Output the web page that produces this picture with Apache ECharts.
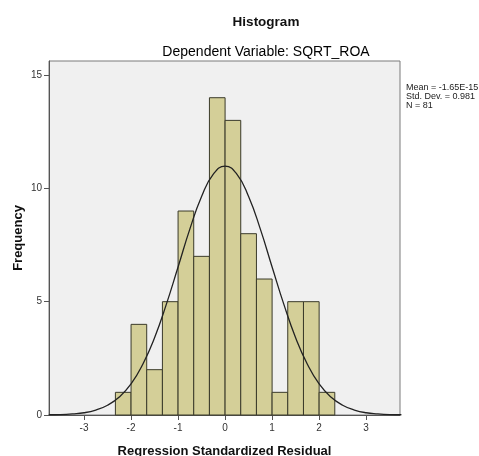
<!DOCTYPE html>
<html>
<head>
<meta charset="utf-8">
<script src="https://cdn.jsdelivr.net/npm/echarts@6/dist/echarts.min.js"></script>
<style>
html,body{margin:0;padding:0;background:#fff;}
#chart{width:479px;height:456px;}
</style>
</head>
<body>
<div id="chart"></div>
<script>
// Histogram bins (lower/upper edges) and frequencies
var binLower = [-2.333, -2, -1.667, -1.333, -1, -0.667, -0.333, 0, 0.333, 0.667, 1, 1.333, 1.667, 2];
var binUpper = [-2, -1.667, -1.333, -1, -0.667, -0.333, 0, 0.333, 0.667, 1, 1.333, 1.667, 2, 2.333];
var counts = [1, 4, 2, 5, 9, 7, 14, 13, 8, 6, 1, 5, 5, 1];

// Normal curve points
var curveX = [-3.75, -3.5, -3.25, -3, -2.75, -2.5, -2.25, -2, -1.75, -1.5, -1.25, -1, -0.75, -0.5, -0.25, 0, 0.25, 0.5, 0.75, 1, 1.25, 1.5, 1.75, 2, 2.25, 2.5, 2.75, 3, 3.25, 3.5, 3.75];
var curveY = [0.01, 0.02, 0.05, 0.10, 0.22, 0.43, 0.79, 1.37, 2.24, 3.41, 4.88, 6.53, 8.20, 9.64, 10.63, 10.98, 10.63, 9.64, 8.20, 6.53, 4.88, 3.41, 2.24, 1.37, 0.79, 0.43, 0.22, 0.10, 0.05, 0.02, 0.01];

// Tick labels
var xTicks = [-3, -2, -1, 0, 1, 2, 3];
var yTicks = [0, 5, 10, 15];

var statsLines = ['Mean = -1.65E-15', 'Std. Dev. = 0.981', 'N = 81'];

var barData = counts.map(function (c, i) { return [binLower[i], binUpper[i], c]; });
var lineData = curveX.map(function (x, i) { return [x, curveY[i]]; });

var chart = echarts.init(document.getElementById('chart'), null, {renderer: 'canvas'});
var font = 'Liberation Sans, Arial, sans-serif';

chart.setOption({
  animation: false,
  backgroundColor: '#ffffff',
  textStyle: {fontFamily: font},
  grid: {
    left: 49, right: 79, top: 61, bottom: 41,
    outerBoundsMode: 'none', containLabel: false,
    show: true, backgroundColor: '#f0f0f0', borderColor: '#7a7a7a', borderWidth: 1
  },
  xAxis: {
    type: 'value', min: -3.745, max: 3.72,
    name: 'Regression Standardized Residual',
    nameLocation: 'middle', nameGap: 30, nameMoveOverlap: false,
    nameTextStyle: {fontSize: 13, fontWeight: 'bold', color: '#111', fontFamily: font},
    axisLine: {show: true, onZero: false, lineStyle: {color: '#555'}},
    axisTick: {show: true, length: 5, customValues: xTicks, lineStyle: {color: '#555'}},
    axisLabel: {customValues: xTicks, margin: 8, fontSize: 10, color: '#333', fontFamily: font},
    splitLine: {show: false}
  },
  yAxis: {
    type: 'value', min: 0, max: 15.62,
    name: 'Frequency',
    nameLocation: 'middle', nameGap: 24, nameRotate: 90, nameMoveOverlap: false,
    nameTextStyle: {fontSize: 13, fontWeight: 'bold', color: '#111', fontFamily: font},
    axisLine: {show: true, onZero: false, lineStyle: {color: '#555'}},
    axisTick: {show: true, length: 5, customValues: yTicks, lineStyle: {color: '#555'}},
    axisLabel: {customValues: yTicks, margin: 7, fontSize: 10, color: '#333', fontFamily: font},
    splitLine: {show: false}
  },
  graphic: [
    {type: 'text', x: 266, y: 22, style: {text: 'Histogram', font: 'bold 13.5px Liberation Sans, Arial, sans-serif', fill: '#111', textAlign: 'center', textVerticalAlign: 'middle'}},
    {type: 'text', x: 266, y: 52, style: {text: 'Dependent Variable: SQRT_ROA', font: '14px Liberation Sans, Arial, sans-serif', fill: '#000', textAlign: 'center', textVerticalAlign: 'middle'}},
    {type: 'text', x: 406, y: 88, style: {text: statsLines[0], font: '9px Liberation Sans, Arial, sans-serif', fill: '#222', textAlign: 'left', textVerticalAlign: 'middle'}},
    {type: 'text', x: 406, y: 97, style: {text: statsLines[1], font: '9px Liberation Sans, Arial, sans-serif', fill: '#222', textAlign: 'left', textVerticalAlign: 'middle'}},
    {type: 'text', x: 406, y: 106, style: {text: statsLines[2], font: '9px Liberation Sans, Arial, sans-serif', fill: '#222', textAlign: 'left', textVerticalAlign: 'middle'}}
  ],
  series: [
    {
      type: 'custom',
      data: barData,
      encode: {x: [0, 1], y: 2},
      renderItem: function (params, api) {
        var p0 = api.coord([api.value(0), 0]);
        var p1 = api.coord([api.value(1), api.value(2)]);
        return {
          type: 'rect',
          shape: {x: p0[0], y: p1[1], width: p1[0] - p0[0], height: p0[1] - p1[1]},
          style: {fill: '#d4cf98', stroke: '#3a3a2a', lineWidth: 1}
        };
      },
      z: 2
    },
    {
      type: 'line',
      data: lineData,
      smooth: true,
      showSymbol: false,
      lineStyle: {color: '#222', width: 1.3},
      z: 3
    }
  ]
});
</script>
</body>
</html>
